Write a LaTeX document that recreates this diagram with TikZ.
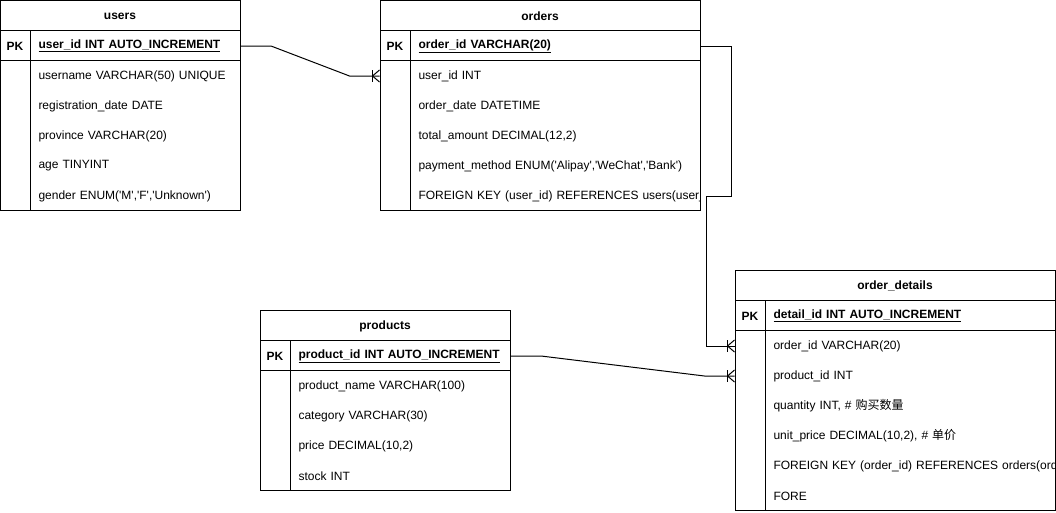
\documentclass[tikz,border=0pt]{standalone}
\usepackage{fontspec}
\setmainfont{Liberation Sans}
\newfontfamily\cjk{Noto Sans CJK SC}
\usetikzlibrary{calc}

% crow's foot (one-to-many) at the west side of a node
\newcommand\crow[1]{%
  \draw ($(#1.west)+(-7,-6)$) -- ++(0,12);
  \draw ($(#1.west)+(-7,0)$) -- ++(7,-6) ($(#1.west)+(-7,0)$) -- ++(7,6);}
\newcommand\q{\textquotesingle}

\begin{document}
\begin{tikzpicture}[x=1pt,y=-1pt,line width=1pt]
\tikzstyle{every node}=[font=\fontsize{12}{14}\selectfont,yshift=-1pt]
\tikzstyle{ttl}=[font=\fontsize{12}{14}\selectfont\bfseries]
\tikzstyle{keyc}=[minimum width=30pt,minimum height=30pt,inner sep=0pt,font=\fontsize{12}{14}\selectfont\bfseries]
\tikzstyle{fld}=[anchor=west,inner xsep=8pt,inner ysep=0pt,minimum height=30pt,align=left]
\useasboundingbox (0,0) rectangle (1056,512);

% users
\draw (0.5,0.5) rectangle (240,210);
\draw (0.5,30)--(240,30) (0.5,60)--(240,60) (30,30)--(30,210);
\node[ttl] (users) at (120,15) {users};
\node[keyc] (usrk0) at (15,45) {PK};
\node[fld,text width=194pt,ttl] (usrid) at (30,45) {\underline{user\_id INT AUTO\_INCREMENT}};
\node[fld,text width=194pt] (usr1) at (30,75) {username VARCHAR(50) UNIQUE};
\node[fld,text width=194pt] (usr2) at (30,105) {registration\_date DATE};
\node[fld,text width=194pt] (usr3) at (30,135) {province VARCHAR(20)};
\node[fld,text width=194pt] (usr4) at (30,165) {age TINYINT};
\node[fld,text width=194pt] (usr5) at (30,195) {gender ENUM(\q M\q,\q F\q,\q Unknown\q)};

% orders
\draw (380,0.5) rectangle (700,210);
\draw (380,30)--(700,30) (380,60)--(700,60) (410,30)--(410,210);
\node[ttl] (orders) at (540,15) {orders};
\node[keyc] (ordk0) at (395,45) {PK};
\node[keyc] (ordk1) at (395,75) {};
\node[fld,text width=274pt,ttl] (ordid) at (410,45) {\underline{order\_id VARCHAR(20)}};
\node[fld,text width=274pt] (ord1) at (410,75) {user\_id INT};
\node[fld,text width=274pt] (ord2) at (410,105) {order\_date DATETIME};
\node[fld,text width=274pt] (ord3) at (410,135) {total\_amount DECIMAL(12,2)};
\node[fld,text width=274pt] (ord4) at (410,165) {payment\_method ENUM(\q Alipay\q,\q WeChat\q,\q Bank\q)};
\begin{scope}
\clip (410,180) rectangle (699.5,210);
\node[fld,text width=274pt] (ord5) at (410,195) {\mbox{FOREIGN KEY (user\_id) REFERENCES users(user\_id)}};
\end{scope}

% order_details
\draw (735,270) rectangle (1055,510);
\draw (735,300)--(1055,300) (735,330)--(1055,330) (765,300)--(765,510);
\node[ttl] (details) at (895,285) {order\_details};
\node[keyc] (odk0) at (750,315) {PK};
\node[keyc] (odk1) at (750,345) {};
\node[keyc] (odk2) at (750,375) {};
\node[fld,text width=274pt,ttl] (odid) at (765,315) {\underline{detail\_id INT AUTO\_INCREMENT}};
\node[fld,text width=274pt] (od1) at (765,345) {order\_id VARCHAR(20)};
\node[fld,text width=274pt] (od2) at (765,375) {product\_id INT};
\node[fld,text width=274pt] (od3) at (765,405) {quantity INT, \# {\cjk 购买数量}};
\node[fld,text width=274pt] (od4) at (765,435) {unit\_price DECIMAL(10,2), \# {\cjk 单价}};
\begin{scope}
\clip (765,450) rectangle (1054.5,510);
\node[fld,text width=274pt] (od5) at (765,465) {\mbox{FOREIGN KEY (order\_id) REFERENCES orders(order\_id)}};
\node[fld,text width=274pt] (od6) at (765,495) {FORE};
\end{scope}

% products
\draw (260,310) rectangle (510,490);
\draw (260,340)--(510,340) (260,370)--(510,370) (290,340)--(290,490);
\node[ttl] (products) at (385,325) {products};
\node[keyc] (prdk0) at (275,355) {PK};
\node[fld,text width=204pt,ttl] (prdid) at (290,355) {\underline{product\_id INT AUTO\_INCREMENT}};
\node[fld,text width=204pt] (prd1) at (290,385) {product\_name VARCHAR(100)};
\node[fld,text width=204pt] (prd2) at (290,415) {category VARCHAR(30)};
\node[fld,text width=204pt] (prd3) at (290,445) {price DECIMAL(10,2)};
\node[fld,text width=204pt] (prd4) at (290,475) {stock INT};

% relations
\draw (usrid.east) -- ++(30,0) -- ($(ordk1.west)+(-30,0)$) -- (ordk1.west);
\crow{ordk1}
\draw (ordid.east) -- ++(30,0) -- ++(0,150) -- ++(-25,0) |- (odk1.west);
\crow{odk1}
\draw (prdid.east) -- ++(30,0) -- ($(odk2.west)+(-30,0)$) -- (odk2.west);
\crow{odk2}
\end{tikzpicture}
\end{document}
